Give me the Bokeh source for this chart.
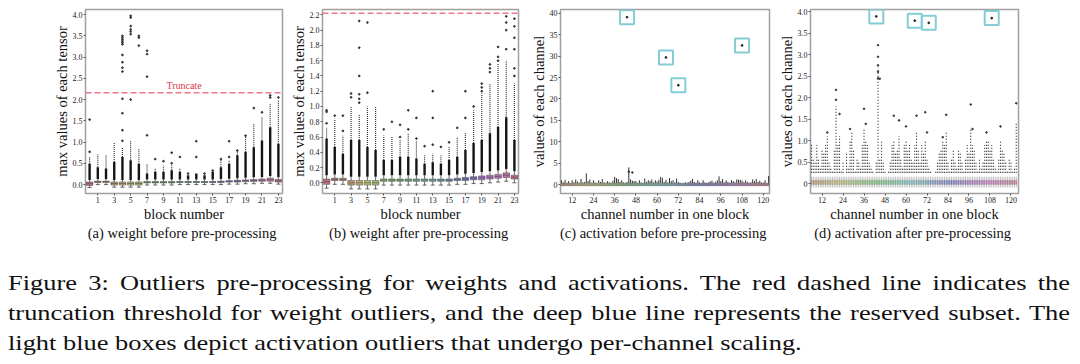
import colorsys
from bokeh.plotting import figure
from bokeh.models import Range1d, FixedTicker, Title, Div, Span, Label, PrintfTickFormatter
from bokeh.layouts import row, column
from bokeh.embed import file_html
from bokeh.resources import INLINE

FONT = "Liberation Serif"

# ---------------- data: panel (a) weight before pre-processing ----------------
blocks = list(range(24))
a_q1 = [-0.02, 0.05, 0.05, -0.01, -0.01, -0.01, -0.01, 0.04, 0.04, 0.04, 0.04, 0.05,
        0.05, 0.05, 0.05, 0.05, 0.05, 0.06, 0.06, 0.07, 0.07, 0.08, 0.08, 0.06]
a_q3 = [0.06, 0.08, 0.08, 0.06, 0.06, 0.06, 0.06, 0.07, 0.07, 0.07, 0.07, 0.07,
        0.07, 0.07, 0.07, 0.07, 0.08, 0.09, 0.10, 0.11, 0.12, 0.13, 0.15, 0.12]
a_thick_top = [0.49, 0.41, 0.38, 0.53, 0.65, 0.57, 0.49, 0.26, 0.30, 0.30, 0.34, 0.30,
               0.22, 0.26, 0.22, 0.30, 0.41, 0.49, 0.69, 0.77, 0.88, 1.04, 1.35, 0.96]
a_dot_top = [0.65, 0.71, 0.69, 1.00, 0.88, 1.04, 0.84, 0.49, 0.38, 0.45, 0.45, 0.38,
             0.22, 0.26, 0.22, 0.30, 0.57, 0.57, 0.84, 1.15, 1.43, 1.59, 1.90, 1.98]
a_out_x = [0, 0,
           4, 4, 4, 4, 4, 4, 4, 4, 4, 4, 4, 4, 4, 4,
           5, 5, 5, 5, 5, 5, 5,
           6, 6, 6,
           7, 7, 7, 7,
           8, 9, 10, 10, 11, 12, 13, 13, 14, 15, 16, 17, 17, 18, 19, 20, 21, 22, 22, 23]
a_out_y = [0.77, 1.53,
           1.03, 1.28, 1.68, 2.02, 2.66, 2.75, 2.88, 3.05, 3.30, 3.34, 3.38, 3.42, 3.46, 3.50,
           2.00, 3.54, 3.60, 3.65, 3.73, 3.93, 3.97,
           3.27, 3.46, 3.50,
           1.16, 2.54, 3.07, 3.15,
           0.60, 0.55, 0.50, 0.75, 0.65, 0.26, 0.65, 1.02, 0.26, 0.33, 0.60, 0.65, 1.02,
           0.80, 1.15, 1.80, 1.70, 2.05, 2.10, 2.05]
a_truncate = 2.16

# ---------------- data: panel (b) weight after pre-processing ----------------
b_q1 = [-0.02, 0.03, 0.03, -0.03, -0.03, -0.03, -0.03, 0.02, 0.02, 0.02, 0.02, 0.02,
        0.02, 0.02, 0.02, 0.02, 0.03, 0.03, 0.04, 0.04, 0.05, 0.06, 0.07, 0.05]
b_q3 = [0.05, 0.06, 0.06, 0.03, 0.03, 0.03, 0.03, 0.05, 0.05, 0.05, 0.05, 0.05,
        0.05, 0.05, 0.05, 0.05, 0.06, 0.07, 0.08, 0.09, 0.10, 0.11, 0.13, 0.10]
b_thick_top = [0.58, 0.47, 0.38, 0.56, 0.56, 0.47, 0.43, 0.30, 0.30, 0.34, 0.34, 0.32,
               0.25, 0.27, 0.25, 0.30, 0.34, 0.43, 0.52, 0.56, 0.65, 0.73, 0.86, 0.56]
b_dot_top = [0.72, 0.84, 0.62, 1.00, 0.89, 1.00, 1.00, 0.62, 0.60, 0.56, 0.65, 0.54,
             0.36, 0.38, 0.36, 0.47, 0.60, 0.65, 0.95, 1.17, 1.30, 1.56, 1.60, 1.30]
b_out_x = [0, 0, 0, 1, 2, 2, 3, 3, 4, 4, 4, 4, 4, 4, 5, 5, 7, 8, 9, 9, 10, 10, 11, 11,
           12, 13, 13, 13, 14, 15, 16, 17, 17, 18, 19, 19, 19, 20, 20, 20, 21, 21, 21,
           22, 22, 22, 22, 23, 23, 23, 23, 23, 23]
b_out_y = [0.78, 0.93, 0.95, 0.88, 0.68, 0.88, 1.12, 1.17, 1.05, 1.10, 1.16, 1.40, 1.77, 2.12,
           1.18, 2.10, 0.70, 0.80, 0.60, 0.76, 0.70, 0.95, 0.58, 0.85,
           0.48, 0.50, 0.85, 1.20, 0.47, 0.53, 0.72, 0.85, 1.20, 1.00, 1.20, 1.25, 1.30,
           1.45, 1.50, 1.55, 1.60, 1.65, 1.78, 1.75, 2.00, 2.10, 2.18,
           1.40, 1.50, 1.75, 1.90, 2.05, 2.15]
b_truncate = 2.22

# ---------------- data: panel (c) activation before pre-processing ----------------
channels = list(range(6, 124))
c_top = [1.0, 0.5, 1.1, 0.4, 0.8, 0.3, 1.0, 0.5, 1.2, 0.7,
         0.4, 1.3, 0.5, 0.6, 2.6, 0.8, 1.2, 0.4, 1.0, 0.5,
         0.3, 1.0, 0.6, 1.3, 0.5, 0.4, 0.8, 0.5, 0.4, 0.9,
         1.8, 1.5, 1.3, 0.6, 1.0, 0.5, 0.4, 0.6, 4.0, 1.2,
         0.9, 0.8, 0.8, 0.4, 1.0, 0.5, 0.4, 1.4, 0.6, 1.0,
         0.8, 1.2, 0.5, 1.0, 0.7, 1.1, 1.8, 1.5, 0.6, 1.1,
         0.5, 1.5, 0.8, 1.0, 0.5, 1.4, 0.6, 0.4, 0.3, 0.3,
         0.5, 0.4, 0.6, 0.9, 1.3, 0.6, 0.4, 1.0, 0.5, 0.3,
         1.0, 0.5, 0.3, 0.5, 0.7, 0.9, 0.4, 0.6, 1.0, 1.9,
         0.8, 1.3, 0.5, 1.0, 0.6, 0.4, 1.0, 0.8, 0.5, 1.2,
         1.1, 1.1, 0.9, 0.5, 1.0, 0.6, 0.4, 0.5, 1.2, 0.8,
         1.3, 0.6, 0.9, 0.5, 0.4, 1.0, 0.3, 2.0]
c_extra_x = [46, 44]
c_extra_y = [2.8, 3.0]
c_out_x = [43, 65, 72, 108]
c_out_y = [39.1, 29.7, 23.2, 32.5]

# ---------------- data: panel (d) activation after pre-processing ----------------
d_top = [0.95, 0.6, 0.5, 0.9, 0.6, 0.4, 0.8, 0.7, 0.9, 1.1,
         0.5, 0.4, 0.3, 0.8, 1.8, 0.9, 1.1, 0.3, 0.5, 0.2,
         0.7, 0.4, 1.0, 1.2, 0.8, 0.3, 0.6, 0.5, 0.4, 0.9,
         1.3, 1.0, 0.9, 0.5, 0.4, 0.3, 0.2, 0.5, 2.7, 0.6,
         1.0, 0.5, 0.3, 0.2, 0.3, 0.5, 0.9, 1.0, 0.7, 0.8,
         1.1, 0.6, 0.4, 0.9, 1.0, 0.8, 0.9, 0.6, 0.5, 0.9,
         1.2, 0.8, 0.5, 0.9, 0.7, 1.0, 0.6, 0.4, 0.3, 0.2,
         0.2, 0.3, 0.5, 0.7, 0.8, 1.0, 0.9, 1.2, 0.5, 0.3,
         0.6, 0.8, 0.5, 0.4, 0.8, 0.7, 0.5, 0.3, 0.6, 0.9,
         0.7, 1.3, 0.9, 0.8, 0.5, 0.3, 0.6, 0.4, 0.5, 0.9,
         1.0, 1.0, 0.8, 0.9, 0.6, 0.4, 0.3, 0.6, 1.0, 0.8,
         0.7, 0.5, 0.3, 0.6, 0.5, 0.3, 0.4, 1.4]
d_sparse_x = [15, 20, 20, 22, 28, 36, 37, 44, 44, 44, 44, 44, 45, 53, 56, 60, 66, 71, 72,
              81, 83, 97, 98, 106, 114, 123]
d_sparse_y = [1.19, 2.18, 1.95, 1.62, 1.27, 1.74, 1.39, 3.22, 2.95, 2.75, 2.60, 2.45, 2.44,
              1.58, 1.47, 1.33, 1.58, 1.66, 1.19, 1.08, 1.60, 1.84, 1.27, 1.19, 1.33, 1.87]
d_out_x = [43, 65, 73, 109]
d_out_y = [3.89, 3.79, 3.74, 3.85]

# ---------------- ticks & texts ----------------
a_xticks = [1, 3, 5, 7, 9, 11, 13, 15, 17, 19, 21, 23]
a_yticks = [0.0, 0.5, 1.0, 1.5, 2.0, 2.5, 3.0, 3.5, 4.0]
b_yticks = [0.0, 0.2, 0.4, 0.6, 0.8, 1.0, 1.2, 1.4, 1.6, 1.8, 2.0, 2.2]
c_xticks = [12, 24, 36, 48, 60, 72, 84, 96, 108, 120]
c_yticks = [0, 5, 10, 15, 20, 25, 30, 35, 40]
d_yticks = [0, 0.5, 1.0, 1.5, 2.0, 2.5, 3.0, 3.5, 4.0]

sub_a = "(a)  weight before pre-processing"
sub_b = "(b)  weight after pre-processing"
sub_c = "(c)  activation before pre-processing"
sub_d = "(d)  activation after pre-processing"
cap_lines = [
    "Figure 3: Outliers pre-processing for weights and activations. The red dashed line indicates the",
    "truncation threshold for weight outliers, and the deep blue line represents the reserved subset. The",
    "light blue boxes depict activation outliers that undergo per-channel scaling.",
]


def hue_color(frac, s=0.42, l=0.6):
    r, g, b = colorsys.hls_to_rgb(frac % 1.0, l, s)
    return "#%02x%02x%02x" % (int(r * 255), int(g * 255), int(b * 255))


def base_fig(width, bl, br, xr, yr, xlabel, ylabel, sub):
    p = figure(width=width, height=245, x_range=Range1d(*xr), y_range=Range1d(*yr),
               output_backend="svg", toolbar_location=None, title=None,
               min_border_left=bl, min_border_right=br, min_border_top=9, min_border_bottom=52)
    p.grid.visible = False
    p.outline_line_color = "#a0a0a0"
    p.outline_line_width = 1.5
    for ax in (p.xaxis[0], p.yaxis[0]):
        ax.axis_line_color = None
        ax.major_tick_line_color = "#555555"
        ax.major_tick_out = 2
        ax.major_tick_in = 0
        ax.minor_tick_line_color = None
        ax.major_label_text_font = FONT
        ax.major_label_text_font_size = "8px"
        ax.major_label_text_color = "#222222"
        ax.axis_label_text_font = FONT
        ax.axis_label_text_font_size = "14.5px"
        ax.axis_label_text_font_style = "normal"
        ax.axis_label_text_color = "#111111"
        ax.major_label_standoff = 1
        ax.axis_label_standoff = 0
    p.xaxis[0].axis_label = xlabel
    p.yaxis[0].axis_label = ylabel
    t = Title(text=sub, align="center", text_font=FONT, text_font_size="14.5px",
              text_font_style="normal", text_color="#111111", standoff=-3)
    p.add_layout(t, "below")
    return p


def weight_panel(p, q1, q3, thick, dots, ox, oy):
    cols = [hue_color(0.97 + i / 24.0) for i in blocks]
    lo = [v - 0.05 for v in q1]
    hi = [v + 0.05 for v in q3]
    p.segment(blocks, lo, blocks, q1, line_color="#444444", line_width=0.8)
    p.segment([b - 0.25 for b in blocks], lo, [b + 0.25 for b in blocks], lo,
              line_color="#444444", line_width=0.8)
    p.segment(blocks, q3, blocks, hi, line_color="#444444", line_width=0.8)
    p.quad(left=[b - 0.4 for b in blocks], right=[b + 0.4 for b in blocks], bottom=q1, top=q3,
           fill_color=cols, line_color="#555555", line_width=0.6)
    med = [(a + b) / 2 for a, b in zip(q1, q3)]
    p.segment([b - 0.4 for b in blocks], med, [b + 0.4 for b in blocks], med,
              line_color="#444444", line_width=0.6)
    p.segment(blocks, hi, blocks, thick, line_color="#151515", line_width=2.4)
    p.segment(blocks, thick, blocks, dots, line_color="#333333", line_width=1.2, line_dash="1 1")
    p.scatter(ox, oy, size=1.7, color="#333333", marker="circle")


# ---------------- panel (a) ----------------
pa = base_fig(287, 85, 5, (-0.5, 23.5), (-0.21, 4.12), "block number",
              "max values of each tensor", sub_a)
weight_panel(pa, a_q1, a_q3, a_thick_top, a_dot_top, a_out_x, a_out_y)
pa.add_layout(Span(location=a_truncate, dimension="width", line_color="#ec7a8c",
                   line_dash="6 3", line_width=1.5))
pa.add_layout(Label(x=(blocks[0] + blocks[-1]) / 2, y=a_truncate, y_offset=2, text="Truncate",
                    text_align="center", text_baseline="bottom", text_color="#d43a45",
                    text_font=FONT, text_font_size="10px"))
pa.xaxis[0].ticker = FixedTicker(ticks=a_xticks)
pa.yaxis[0].ticker = FixedTicker(ticks=a_yticks)
pa.yaxis[0].formatter = PrintfTickFormatter(format="%.1f")

# ---------------- panel (b) ----------------
pb = base_fig(240, 34, 9, (-0.5, 23.5), (-0.14, 2.27), "block number",
              "max values of each tensor", sub_b)
weight_panel(pb, b_q1, b_q3, b_thick_top, b_dot_top, b_out_x, b_out_y)
pb.add_layout(Span(location=b_truncate, dimension="width", line_color="#ec7a8c",
                   line_dash="6 3", line_width=1.5))
pb.xaxis[0].ticker = FixedTicker(ticks=a_xticks)
pb.yaxis[0].ticker = FixedTicker(ticks=b_yticks)
pb.yaxis[0].formatter = PrintfTickFormatter(format="%.1f")

ch_cols = [hue_color(c / 128.0, s=0.5, l=0.62) for c in channels]

# ---------------- panel (c) ----------------
pc = base_fig(248, 32, 6, (5.4, 123.5), (-2.1, 40.9), "channel number in one block",
              "values of each channel", sub_c)
pc.segment(channels, [0.3] * len(channels), channels, c_top, line_color="#333333", line_width=1)
pc.quad(left=[c - 0.35 for c in channels], right=[c + 0.35 for c in channels],
        bottom=-0.3, top=0.3, fill_color=ch_cols, line_color="#555555", line_width=0.5)
pc.scatter(c_extra_x, c_extra_y, size=1.6, color="#333333")
pc.scatter(c_out_x, c_out_y, size=1.8, color="#222222")
pc.rect(c_out_x, c_out_y, width=14, height=14, width_units="screen", height_units="screen",
        fill_color=None, line_color="#84cdd6", line_width=2)
pc.xaxis[0].ticker = FixedTicker(ticks=c_xticks)
pc.yaxis[0].ticker = FixedTicker(ticks=c_yticks)

# ---------------- panel (d) ----------------
pd_ = base_fig(297, 31, 54, (5.4, 124.3), (-0.23, 4.05), "channel number in one block",
               "values of each channel", sub_d)
pd_.segment(channels, [-0.09] * len(channels), channels, [0.16] * len(channels),
            line_color="#999999", line_width=0.6)
pd_.quad(left=[c - 0.3 for c in channels], right=[c + 0.3 for c in channels],
         bottom=-0.02, top=0.08, fill_color=ch_cols, line_color="#888888", line_width=0.3)
col_x = [c for c, t in zip(channels, d_top) if t > 0.25]
col_t = [t for t in d_top if t > 0.25]
pd_.segment(col_x, [0.25] * len(col_x), col_x, col_t, line_color="#1a1a1a",
            line_width=1.1, line_dash="1 2")
pd_.scatter(d_sparse_x, d_sparse_y, size=1.6, color="#333333")
pd_.scatter(d_out_x, d_out_y, size=1.8, color="#222222")
pd_.rect(d_out_x, d_out_y, width=14, height=14, width_units="screen", height_units="screen",
         fill_color=None, line_color="#84cdd6", line_width=2)
pd_.xaxis[0].ticker = FixedTicker(ticks=c_xticks)
pd_.yaxis[0].ticker = FixedTicker(ticks=d_yticks)
pd_.yaxis[0].formatter = PrintfTickFormatter(format="%.1f")
pd_.yaxis[0].major_label_overrides = {0: "0"}

# ---------------- caption ----------------
jl = "line-height:30px;height:30px;text-align:justify;text-align-last:justify;"
html = ('<div style="padding-left:8px;">'
        '<div style="font-family:\'Liberation Serif\',serif;font-size:22px;color:#111;width:885px;'
        'transform:scaleX(1.2);transform-origin:0 0;padding-top:23px;">'
        f'<div style="{jl}">{cap_lines[0]}</div>'
        f'<div style="{jl}">{cap_lines[1]}</div>'
        f'<div style="line-height:26px;margin-top:2px;white-space:nowrap;">{cap_lines[2]}</div>'
        '</div></div>')
caption = Div(text=html, width=1072, height=110, margin=(0, 0, 0, 0))

layout = column(row(pa, pb, pc, pd_, spacing=0), caption, spacing=0)
open("out.html", "w").write(file_html(layout, INLINE, title="Figure 3"))
